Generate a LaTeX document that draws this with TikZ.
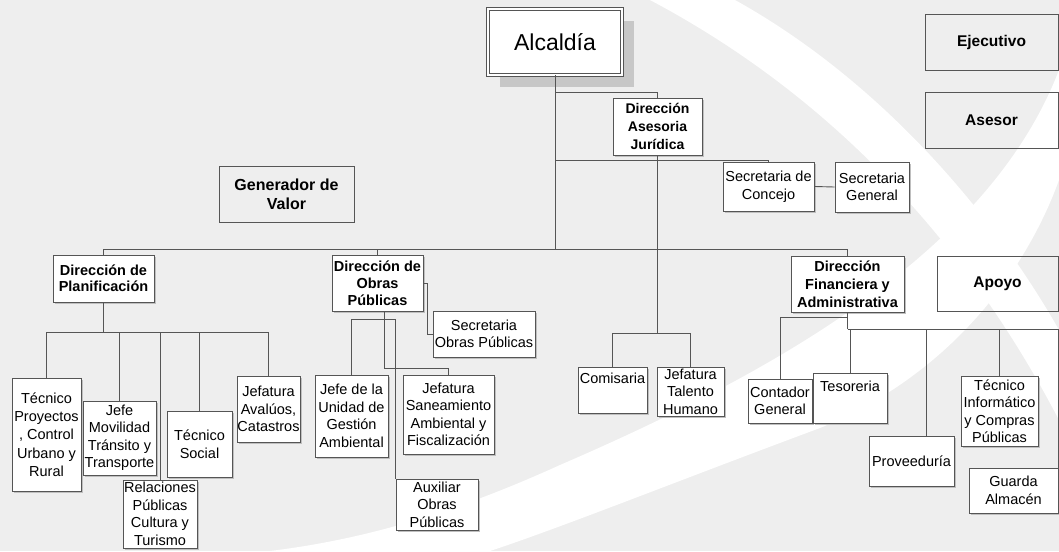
\documentclass[tikz,border=0pt]{standalone}
\usepackage{fontspec}
\setmainfont{Liberation Sans}
\usetikzlibrary{shadows}
\definecolor{bg}{RGB}{238,238,238}
\definecolor{ln}{RGB}{85,85,85}
\newcommand\fsz[2]{\fontsize{#1}{#2}\selectfont}

\begin{document}
\begin{tikzpicture}[x=1pt,y=-1pt,
  wh/.style 2 args={minimum width=#1pt, minimum height=#2pt},
  box/.style={draw=ln, fill=white, line width=0.9pt, inner sep=0pt, align=center,
    font=\fsz{14.5}{17.5},
    drop shadow={shadow xshift=1.5pt, shadow yshift=-1.5pt, fill=black!25, opacity=1}},
  head/.style={box, font=\bfseries\fsz{14.5}{17.5}},
  top/.style={box, double=white, double distance=1.6pt, line width=0.8pt,
    font=\fsz{23}{27},
    drop shadow={shadow xshift=12pt, shadow yshift=-12pt, fill=black!22, opacity=1}},
  legend/.style={draw=ln, line width=0.9pt, inner sep=0pt, align=center,
    font=\bfseries\fsz{15.5}{19}},
  link/.style={draw=ln, line width=0.9pt}]

\useasboundingbox (0,0) rectangle (1059,551);
\fill[bg] (0,0) rectangle (1059,551);

% decorative white swooshes of the background
\fill[white] (650,0) .. controls (820,90) and (960,230) .. (1059,420)
  -- (1059,330) .. controls (985,200) and (870,75) .. (735,0) -- cycle;
\fill[white] (1059,70) .. controls (990,250) and (780,370) .. (560,465)
  .. controls (450,515) and (360,540) .. (270,551)
  -- (490,551) .. controls (560,528) and (680,480) .. (820,428)
  .. controls (960,370) and (1030,260) .. (1059,180) -- cycle;

% junction levels
\coordinate (lvAJ) at (0,92);
\coordinate (lvSec) at (0,160);
\coordinate (mainbar) at (0,249);
\coordinate (lvOb1) at (0,319);
\coordinate (lvCont) at (0,317);
\coordinate (lvFin) at (0,329);
\coordinate (lvPlan) at (0,332);
\coordinate (lvCom) at (0,333);
\coordinate (lvOb2) at (0,368);

% legend
\node[legend, wh={133}{56}] (ejec) at (991.5,42) {Ejecutivo};
\node[legend, wh={133}{56}] (ases) at (991.5,120) {Asesor};
\node[legend, wh={121}{55}] (apoyo) at (997.5,283.5) {Apoyo};
\node[legend, wh={135}{56}, font=\bfseries\fsz{16}{19}] (gen) at (286.5,194) {Generador de\\Valor};

% top levels
\node[top, wh={134}{66}] (alc) at (555,42) {Alcaldía};
\node[head, wh={89}{57}, font=\bfseries\fsz{14}{18}] (daj) at (657.5,126.5) {Dirección\\Asesoria\\Jurídica};
\node[box, wh={91}{49}] (sc) at (768.5,186.5) {Secretaria de\\Concejo};
\node[box, wh={74}{50}] (sg) at (872,187) {Secretaria\\General};

\node[head, wh={101}{47}, font=\bfseries\fsz{14.5}{16.5}] (dp) at (103.5,278.5) {Dirección de\\Planificación};
\node[head, wh={91}{56}, font=\bfseries\fsz{14.5}{17}] (dop) at (377.5,283) {Dirección de\\Obras\\Públicas};
\node[box, wh={102}{46}] (sop) at (484,334) {Secretaria\\Obras Públicas};
\node[head, wh={113}{56}, font=\bfseries\fsz{14.5}{18}] (dfa) at (847.5,284) {Dirección\\Financiera y\\Administrativa};

% planning units
\node[box, wh={69}{113}, font=\fsz{14.5}{18.3}] (tp) at (46.5,434.5) {Técnico\\Proyectos\\, Control\\Urbano y\\Rural};
\node[box, wh={73}{74}] (jm) at (119.5,438) {Jefe\\Movilidad\\Tránsito y\\Transporte};
\node[box, wh={74}{68}] (rp) at (160,514) {Relaciones\\Públicas\\Cultura y\\Turismo};
\node[box, wh={65}{66}] (ts) at (199.5,444) {Técnico\\Social};
\node[box, wh={63}{66}] (ja) at (268.5,409) {Jefatura\\Avalúos,\\Catastros};

% public works units
\node[box, wh={73}{82}] (ju) at (351.5,416) {Jefe de la\\Unidad de\\Gestión\\Ambiental};
\node[box, wh={91}{79}] (js) at (448.5,414.5) {Jefatura\\Saneamiento\\Ambiental y\\Fiscalización};
\node[box, wh={82}{51}] (aux) at (437,504.5) {Auxiliar\\Obras\\Públicas};

% legal counsel units
\node[box, wh={69}{46}] (com) at (612.5,390) {Comisaria\\\strut};
\node[box, wh={67}{49}] (jth) at (690.5,391.5) {Jefatura\\Talento\\Humano};

% finance units
\node[box, wh={64}{44}] (cg) at (780,401) {Contador\\General};
\node[box, wh={74}{50}] (tes) at (850,398) {Tesoreria\\\strut};
\node[box, wh={85}{50}] (prov) at (911.5,461) {Proveeduría};
\node[box, wh={77}{70}] (ti) at (999.5,411) {Técnico\\Informático\\y Compras\\Públicas};
\node[box, wh={89}{45}] (gal) at (1013.5,490.5) {Guarda\\Almacén};

% connectors: top
\draw[link] (alc.south) -- (alc.south |- mainbar);
\draw[link] (alc.south |- lvAJ) -| (daj.north);
\draw[link] (alc.south |- lvSec) -| (sc.north);
\draw[link] (sc.east) -- (sg.west);
\draw[link] (dp.north |- mainbar) -- (dfa.north |- mainbar);
\draw[link] (dp.north) -- (dp.north |- mainbar);
\draw[link] (dop.north) -- (dop.north |- mainbar);
\draw[link] (dfa.north) -- (dfa.north |- mainbar);

% connectors: legal counsel
\draw[link] (daj.south) -- (daj.south |- lvCom);
\draw[link] (com.north) |- (jth.north |- lvCom) -- (jth.north);

% connectors: planning
\draw[link] (dp.south) -- (dp.south |- lvPlan);
\draw[link] (tp.north) |- (ja.north |- lvPlan) -- (ja.north);
\foreach \n in {jm,rp,ts} \draw[link] (\n.north) -- (\n.north |- lvPlan);

% connectors: public works
\coordinate (dopout) at ([xshift=6.5pt]dop.south);
\draw[link] (dopout) |- (js.north |- lvOb2) -- (js.north);
\draw[link] (ju.north) |- (aux.north west |- lvOb1) -- (aux.north west);
\draw[link] (dop.east) -- ++(4,0) |- (sop.west);

% connectors: finance
\draw[link] (dfa.south) -- (dfa.south |- lvFin);
\draw[link] (dfa.south |- lvCont) -| (cg.north);
\draw[link] (dfa.south |- lvFin) -| (gal.north east);
\draw[link] (tes.north) -- (tes.north |- lvFin);
\coordinate (provin) at ([xshift=14.5pt]prov.north);
\draw[link] (provin) -- (provin |- lvFin);
\draw[link] (ti.north) -- (ti.north |- lvFin);
\end{tikzpicture}
\end{document}
